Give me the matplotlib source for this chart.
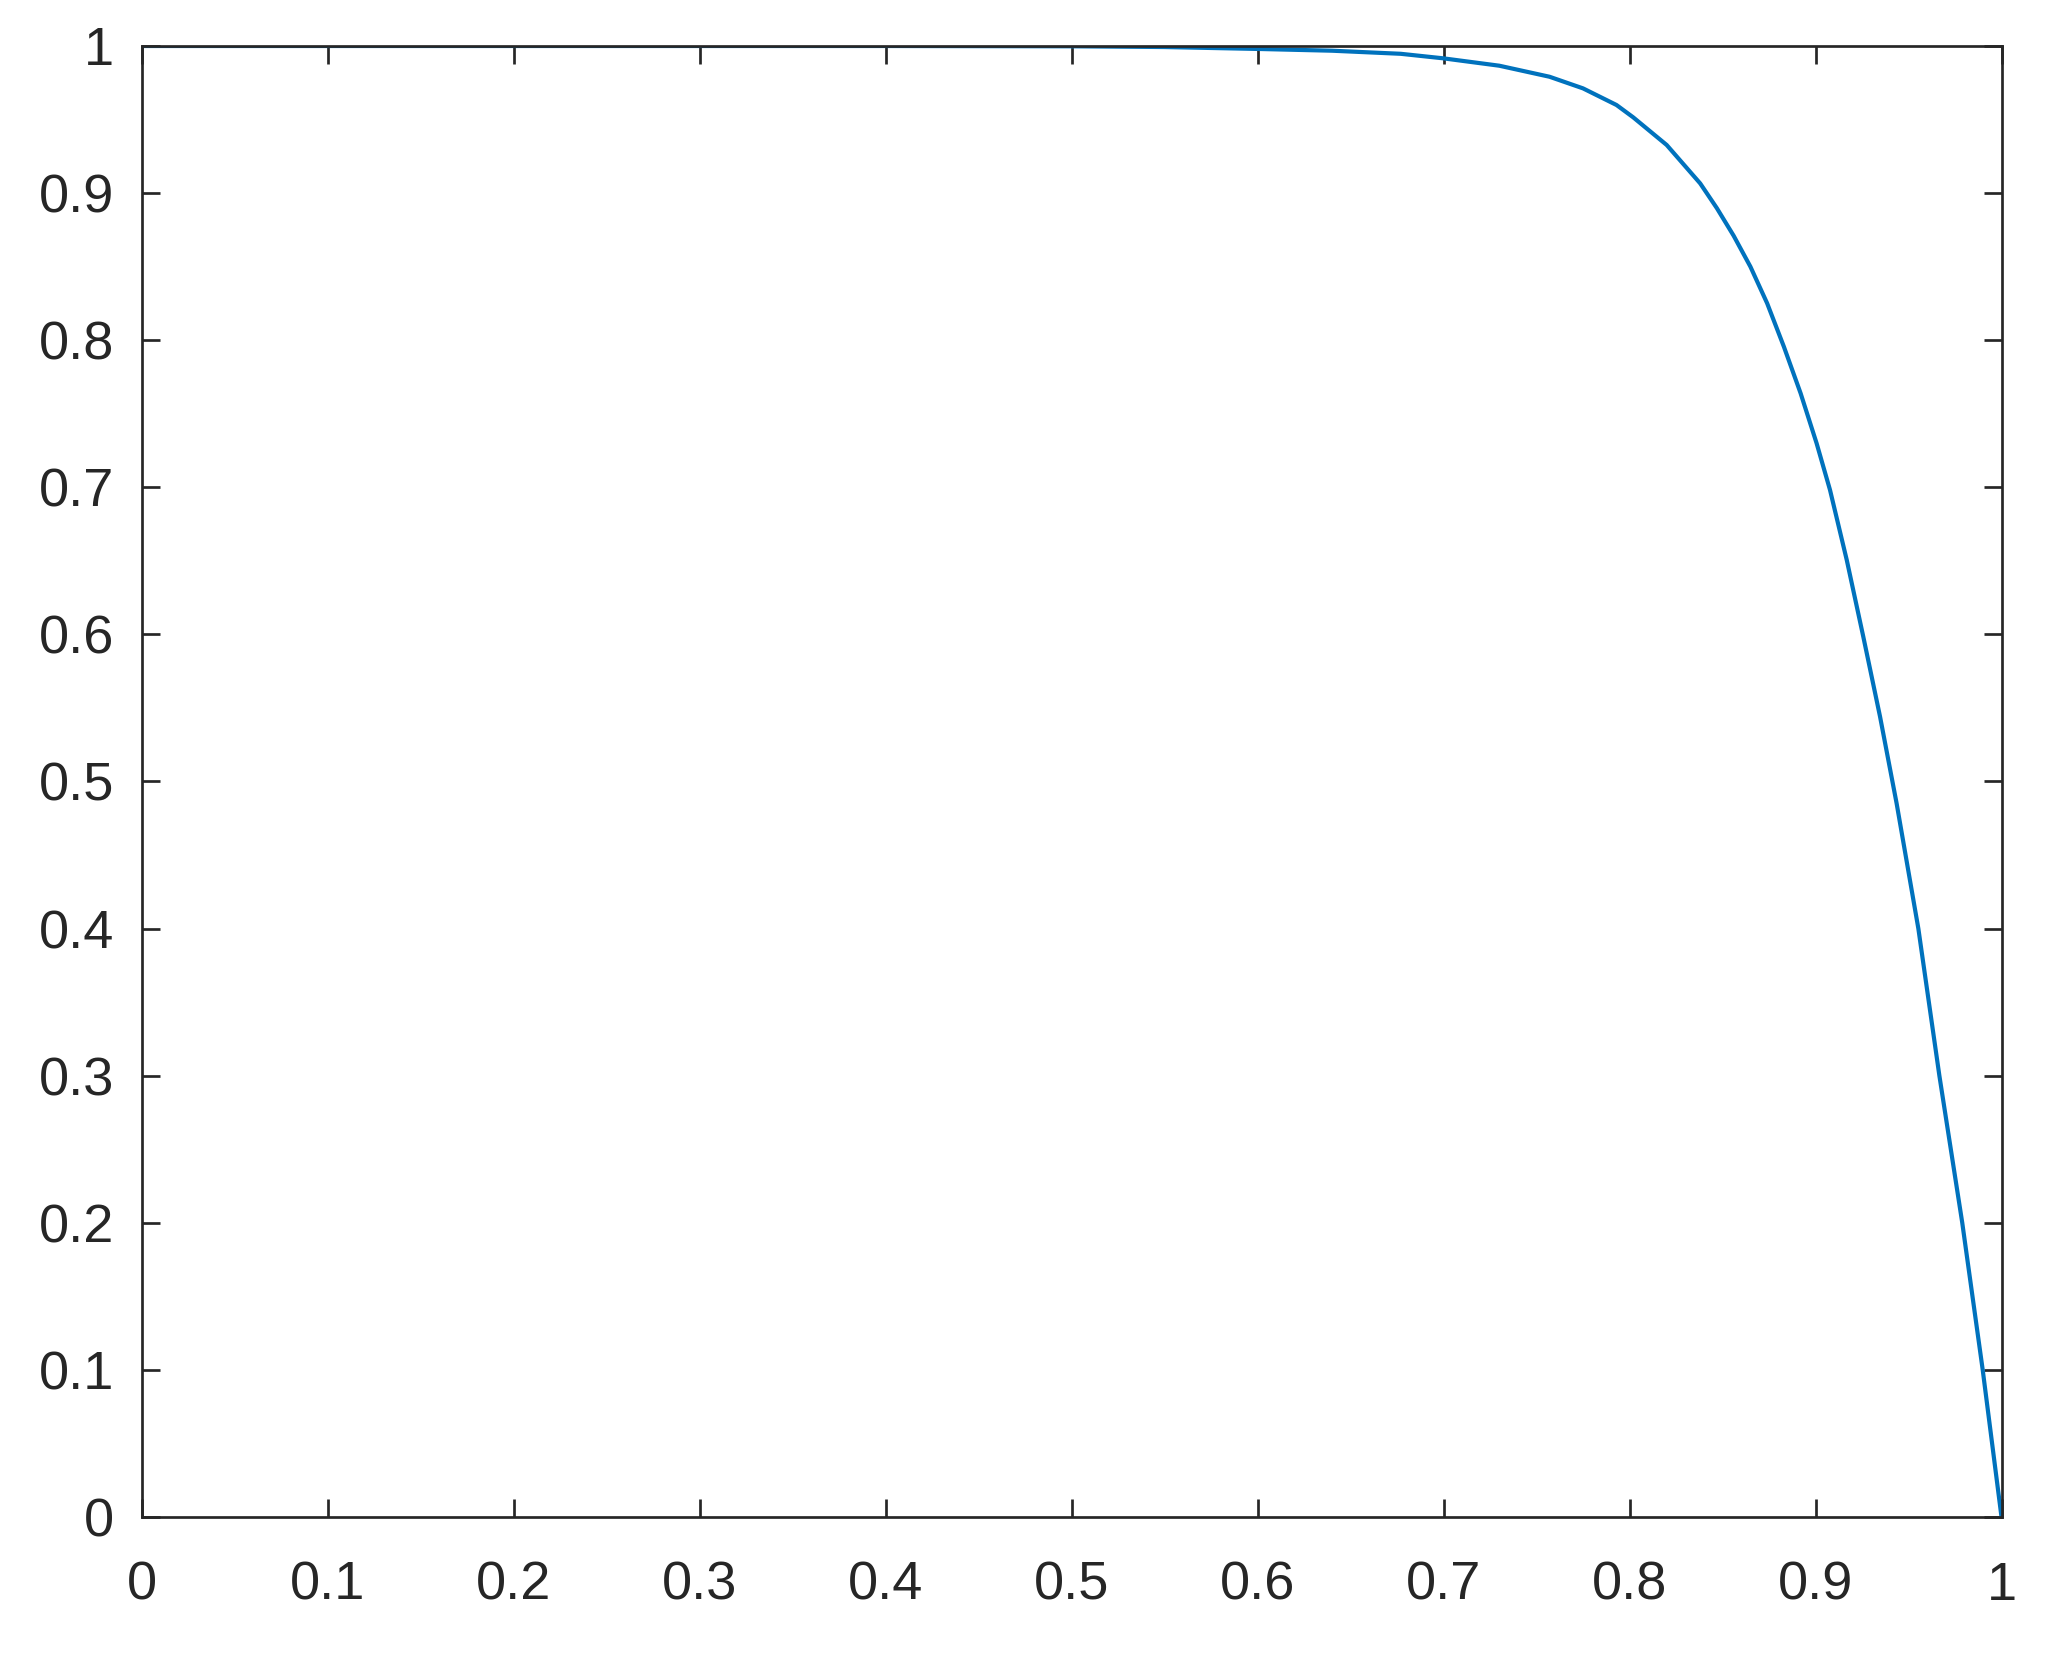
import matplotlib
matplotlib.use("Agg")
import matplotlib.pyplot as plt

x_vals = [0, 0.1, 0.2, 0.3, 0.4, 0.45, 0.5, 0.55, 0.6, 0.64, 0.677, 0.700, 0.730,
          0.757, 0.775, 0.793, 0.802, 0.820, 0.838, 0.847, 0.856, 0.865, 0.874,
          0.883, 0.892, 0.9006, 0.9078, 0.9168, 0.9257, 0.9347, 0.9436, 0.9553,
          0.9666, 0.9789, 0.9899, 1.0]
y_vals = [1, 1, 1, 1, 1, 0.9999, 0.9998, 0.9993, 0.998, 0.9968, 0.9947, 0.9916, 0.9866,
          0.9791, 0.9712, 0.9599, 0.9515, 0.9327, 0.9066, 0.8897, 0.8710, 0.8500, 0.8251,
          0.7956, 0.7639, 0.7299, 0.6982, 0.6506, 0.5984, 0.5441, 0.4852, 0.400,
          0.300, 0.200, 0.100, 0.0]
x_ticks = [0, 0.1, 0.2, 0.3, 0.4, 0.5, 0.6, 0.7, 0.8, 0.9, 1]
x_ticklabels = ["0", "0.1", "0.2", "0.3", "0.4", "0.5", "0.6", "0.7", "0.8", "0.9", "1"]
y_ticks = [0, 0.1, 0.2, 0.3, 0.4, 0.5, 0.6, 0.7, 0.8, 0.9, 1]
y_ticklabels = ["0", "0.1", "0.2", "0.3", "0.4", "0.5", "0.6", "0.7", "0.8", "0.9", "1"]

plt.rcParams['font.family'] = ['Liberation Sans', 'DejaVu Sans']
fig = plt.figure(figsize=(2052 / 300, 1659 / 300), dpi=300)
ax = fig.add_axes([141.5 / 2052, 1 - 1517 / 1659, (2001.5 - 141.5) / 2052, (1517 - 46) / 1659])
ax.plot(x_vals, y_vals, color='#0072BD', lw=1.0, solid_joinstyle='round')
ax.set_xlim(0, 1)
ax.set_ylim(0, 1)
ax.set_xticks(x_ticks)
ax.set_xticklabels(x_ticklabels)
ax.set_yticks(y_ticks)
ax.set_yticklabels(y_ticklabels)
edge = '#262626'
for s in ax.spines.values():
    s.set_color(edge)
    s.set_linewidth(0.65)
ax.tick_params(direction='in', length=4.4, width=0.65, color=edge, labelcolor=edge,
               labelsize=13, top=True, right=True)
ax.tick_params(axis='y', pad=6.5)
ax.tick_params(axis='x', pad=10.5)
fig.savefig('out.png', dpi=300)
